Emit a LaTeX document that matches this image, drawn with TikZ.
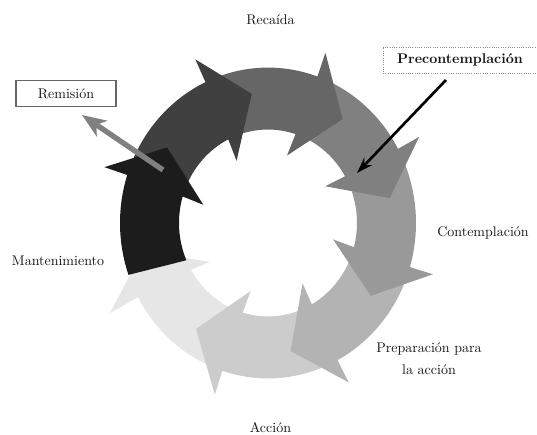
\documentclass[tikz,border=0pt]{standalone}
\usepackage{tikz}
\usetikzlibrary{shapes}
\usetikzlibrary{positioning}
\usetikzlibrary{arrows.meta}
\usepackage{xcolor}
\definecolor{stageA}{RGB}{28,28,28}
\definecolor{stageB}{RGB}{64,64,64}
\definecolor{stageC}{RGB}{102,102,102}
\definecolor{stageD}{RGB}{128,128,128}
\definecolor{stageE}{RGB}{153,153,153}
\definecolor{stageF}{RGB}{179,179,179}
\definecolor{stageG}{RGB}{204,204,204}
\definecolor{stageH}{RGB}{230,230,230}
\definecolor{labelgray}{RGB}{20,20,20}

\begin{document}
\begin{tikzpicture}[x=0.75pt,y=0.75pt,font=\fontsize{10.5pt}{16.3pt}\selectfont,
  stagelabel/.style={text=labelgray,inner sep=1pt}]
\useasboundingbox (0,0) rectangle (537,435);
% the cycle, drawn from the last arrow back to the first
\begin{scope}[shift={(268,212)},yscale=1.05]
\fill[stageH](-114:148) arc[start angle=-114,end angle=-151.5,radius=148]--(-151.5:180)--(-168:128)--(-147.5:69)--(-150:89) arc[start angle=-150,end angle=-111,radius=89]--cycle;
\fill[stageG](-68:148) arc[start angle=-68,end angle=-108,radius=148]--(-108:172)--(-125.5:124)--(-105:67)--(-106.5:89) arc[start angle=-106.5,end angle=-65,radius=89]--cycle;
\fill[stageF](-22.5:148) arc[start angle=-22.5,end angle=-62,radius=148]--(-62:172)--(-79.5:124)--(-59:67)--(-60.5:89) arc[start angle=-60.5,end angle=-19.5,radius=89]--cycle;
\fill[stageE](22.5:148) arc[start angle=22.5,end angle=-16.5,radius=148]--(-16.5:172)--(-34:124)--(-13.5:67)--(-15:89) arc[start angle=-15,end angle=25.5,radius=89]--cycle;
\fill[stageD](64.5:148) arc[start angle=64.5,end angle=28.5,radius=148]--(28.5:172)--(11:124)--(31.5:67)--(30:89) arc[start angle=30,end angle=67.5,radius=89]--cycle;
\fill[stageC](109:148) arc[start angle=109,end angle=70.5,radius=148]--(70.5:172)--(53:124)--(73.5:67)--(72:89) arc[start angle=72,end angle=112,radius=89]--cycle;
\fill[stageB](156:148) arc[start angle=156,end angle=115,radius=148]--(115:172)--(97.5:124)--(118:67)--(116.5:89) arc[start angle=116.5,end angle=159,radius=89]--cycle;
\fill[stageA](199.5:148) arc[start angle=199.5,end angle=162,radius=148]--(162:172)--(144.5:124)--(165:67)--(163.5:89) arc[start angle=163.5,end angle=203.5,radius=89]--cycle;
\end{scope}
% stage names
\node[stagelabel] (recaida) at (270.5,415) {Recaída};
\node[stagelabel] (contemplacion) at (483,202.5) {Contemplación};
\node[stagelabel,align=center] (preparacion) at (429,76) {Preparación para\\la acción};
\node[stagelabel] (accion) at (270.5,7) {Acción};
\node[stagelabel] (mantenimiento) at (58,174) {Mantenimiento};
% boxes
\node[stagelabel,draw=black!60,line width=0.8pt,minimum width=75pt,minimum height=20pt] (remision) at (66,341.5) {Remisión};
\node[stagelabel,draw=black!45,densely dotted,line width=0.7pt,minimum width=115.5pt,minimum height=19.5pt] (precontemplacion) at (460,375) {\bfseries Precontemplación};
% pointers
\coordinate (remfrom) at (163,265);
\coordinate (remtip) at (82,320);
\draw[stageD,line width=4pt,-{Stealth[length=18pt,width=14pt,inset=5pt]}] (remfrom)--(remtip);
\coordinate (prefrom) at (446,355);
\coordinate (pretip) at (357,262);
\draw[black,line width=2pt,-{Stealth[length=12pt,width=8pt]}] (prefrom)--(pretip);
\end{tikzpicture}
\end{document}
